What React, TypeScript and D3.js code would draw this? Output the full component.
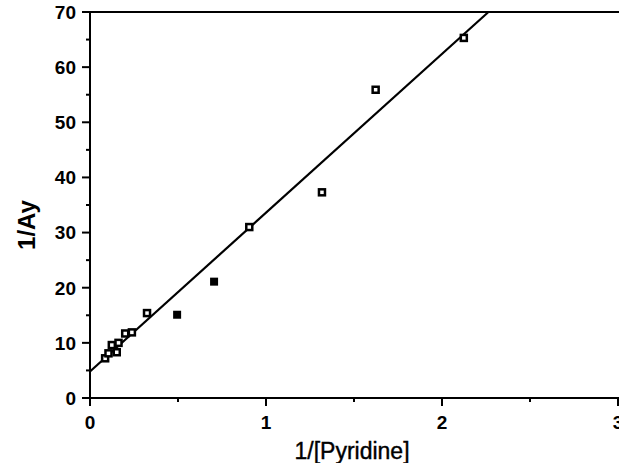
import React, { useEffect, useRef } from 'react';
import * as d3 from 'd3';

// 1/[Pyridine] vs 1/Ay readings
const openX = [0.086, 0.105, 0.124, 0.152, 0.162, 0.2, 0.238, 0.324, 0.905, 1.318, 1.623, 2.124];
const openY = [7.2, 8.1, 9.6, 8.3, 10.0, 11.7, 11.9, 15.4, 31.0, 37.3, 55.9, 65.3];
const filledX = [0.495, 0.705];
const filledY = [15.1, 21.1];
// fitted line
const fitIntercept = 4.8;
const fitSlope = 28.8;

const xTicks = [0, 1, 2, 3];
const xMinor = [0.5, 1.5, 2.5];
const yTicks = [0, 10, 20, 30, 40, 50, 60, 70];
const yMinor = [5, 15, 25, 35, 45, 55, 65];

export default function App() {
  const svgRef = useRef<SVGSVGElement>(null);

  useEffect(() => {
    const w = 619;
    const h = 463;
    const svg = d3.select(svgRef.current).attr('width', w).attr('height', h);
    svg.selectAll('*').remove();

    const x = d3.scaleLinear().domain([0, 3]).range([90, 618]);
    const y = d3.scaleLinear().domain([0, 70]).range([398, 12]);
    const font = '"Liberation Sans", Arial, sans-serif';

    // frame lines
    svg.append('line').attr('x1', x(0)).attr('x2', w).attr('y1', y(0)).attr('y2', y(0))
      .attr('stroke', '#000').attr('stroke-width', 2);
    svg.append('line').attr('x1', x(0)).attr('x2', w).attr('y1', y(70)).attr('y2', y(70))
      .attr('stroke', '#000').attr('stroke-width', 2);
    svg.append('line').attr('x1', x(0)).attr('x2', x(0)).attr('y1', y(70)).attr('y2', y(0))
      .attr('stroke', '#000').attr('stroke-width', 2);

    // y ticks
    svg.selectAll('.ytick').data(yTicks).join('line')
      .attr('x1', x(0) - 8).attr('x2', x(0)).attr('y1', d => y(d)).attr('y2', d => y(d))
      .attr('stroke', '#000').attr('stroke-width', 2);
    svg.selectAll('.yminor').data(yMinor).join('line')
      .attr('x1', x(0) - 4).attr('x2', x(0)).attr('y1', d => y(d)).attr('y2', d => y(d))
      .attr('stroke', '#000').attr('stroke-width', 2);
    svg.selectAll('.ylab').data(yTicks).join('text')
      .attr('x', 76).attr('y', d => y(d)).attr('dy', '0.36em')
      .attr('text-anchor', 'end').attr('font-family', font).attr('font-size', 19)
      .attr('font-weight', 'bold').text(d => d);

    // x ticks
    svg.selectAll('.xtick').data(xTicks).join('line')
      .attr('x1', d => x(d)).attr('x2', d => x(d)).attr('y1', y(0)).attr('y2', y(0) + 8)
      .attr('stroke', '#000').attr('stroke-width', 2);
    svg.selectAll('.xminor').data(xMinor).join('line')
      .attr('x1', d => x(d)).attr('x2', d => x(d)).attr('y1', y(0)).attr('y2', y(0) + 4)
      .attr('stroke', '#000').attr('stroke-width', 2);
    svg.selectAll('.xlab').data(xTicks).join('text')
      .attr('x', d => x(d)).attr('y', 429)
      .attr('text-anchor', 'middle').attr('font-family', font).attr('font-size', 19)
      .attr('font-weight', 'bold').text(d => d);

    // axis titles
    svg.append('text').attr('x', 352).attr('y', 459).attr('text-anchor', 'middle')
      .attr('font-family', font).attr('font-size', 23)
      .attr('stroke', '#000').attr('stroke-width', 0.4).text('1/[Pyridine]');
    svg.append('text').attr('transform', `translate(35,225) rotate(-90)`).attr('text-anchor', 'middle')
      .attr('font-family', font).attr('font-size', 24).attr('font-weight', 'bold').text('1/Ay');

    // fit line
    const xEnd = (70 - fitIntercept) / fitSlope;
    const line = d3.line<number>().x(d => x(d)).y(d => y(fitIntercept + fitSlope * d));
    svg.append('path').attr('d', line([0, xEnd])).attr('fill', 'none')
      .attr('stroke', '#000').attr('stroke-width', 2.2);

    // markers
    const open = openX.map((v, i) => [v, openY[i]]);
    svg.selectAll('.open').data(open).join('rect')
      .attr('x', d => x(d[0]) - 3).attr('y', d => y(d[1]) - 3)
      .attr('width', 6).attr('height', 6)
      .attr('fill', '#fff').attr('stroke', '#000').attr('stroke-width', 2.5);
    const filled = filledX.map((v, i) => [v, filledY[i]]);
    svg.selectAll('.filled').data(filled).join('rect')
      .attr('x', d => x(d[0]) - 4).attr('y', d => y(d[1]) - 4)
      .attr('width', 8).attr('height', 8).attr('fill', '#000');
  }, []);

  return (
    <div>
      <svg ref={svgRef} style={{ position: 'absolute', left: 0, top: 0, background: '#fff' }}></svg>
    </div>
  );
}
